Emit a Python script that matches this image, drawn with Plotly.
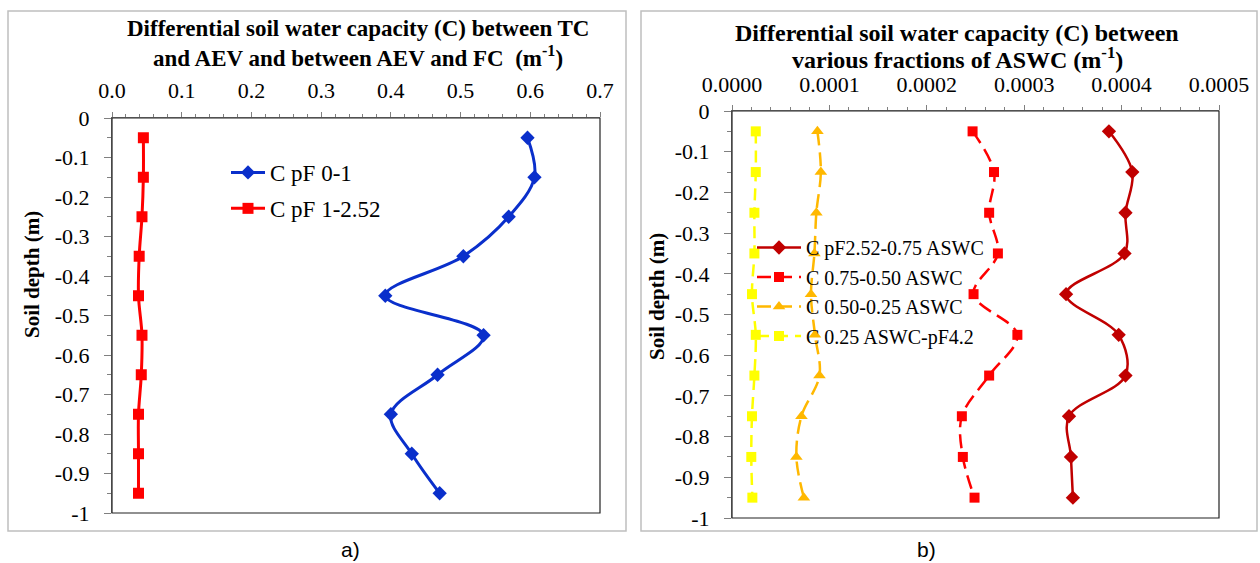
import plotly.graph_objects as go

# ---------------- data ----------------
depth = [-0.05, -0.15, -0.25, -0.35, -0.45, -0.55, -0.65, -0.75, -0.85, -0.95]

c_pf_0_1 = [0.596, 0.606, 0.569, 0.504, 0.392, 0.533, 0.467, 0.400, 0.430, 0.470]
c_pf_1_252 = [0.045, 0.045, 0.043, 0.039, 0.038, 0.043, 0.042, 0.038, 0.038, 0.038]

c_pf252_075 = [0.000387, 0.000411, 0.000404, 0.000403, 0.000343, 0.000397, 0.000404, 0.000346, 0.000348, 0.000350]
c_075_050 = [0.000247, 0.000269, 0.000264, 0.000273, 0.000248, 0.000293, 0.000264, 0.000236, 0.000237, 0.000249]
c_050_025 = [0.0000877, 0.0000912, 0.0000866, 0.0000846, 0.0000811, 0.0000852, 0.0000898, 0.0000713, 0.0000661, 0.0000738]
c_025_pf42 = [0.0000244, 0.0000244, 0.0000230, 0.0000230, 0.0000205, 0.0000244, 0.0000230, 0.0000205, 0.0000198, 0.0000209]

y_tickvals = [0, -0.1, -0.2, -0.3, -0.4, -0.5, -0.6, -0.7, -0.8, -0.9, -1]
y_ticktext = ["0", "-0.1", "-0.2", "-0.3", "-0.4", "-0.5", "-0.6", "-0.7", "-0.8", "-0.9", "-1"]

title_a_lines = ["Differential soil water capacity (C) between TC",
                 "and AEV and between AEV and FC \u00a0(m<sup>-1</sup>)"]
title_b_lines = ["Differential soil water capacity (C) between",
                 "various fractions of ASWC (m<sup>-1</sup>)"]
y_title = "Soil depth (m)"

W, H = 1260, 563
SERIF = "Liberation Serif, Times New Roman, Times, serif"


def px(x):
    return x / W


def py(y):
    return 1 - y / H


fig = go.Figure()

# ---- panel a ----
fig.add_trace(go.Scatter(x=c_pf_0_1, y=depth, name="C pF 0-1", mode="lines+markers",
                         line=dict(color="#0A2FCB", width=3, shape="spline", smoothing=1.0),
                         marker=dict(symbol="diamond", size=11, color="#0A2FCB"),
                         xaxis="x", yaxis="y", legend="legend", legendgroup="a1"))
fig.add_trace(go.Scatter(x=c_pf_1_252, y=depth, name="C pF 1-2.52", mode="lines+markers",
                         line=dict(color="#FF0000", width=3, shape="spline", smoothing=1.0),
                         marker=dict(symbol="square", size=11, color="#FF0000"),
                         xaxis="x", yaxis="y", legend="legend", legendgroup="a2"))

# ---- panel b ----
fig.add_trace(go.Scatter(x=c_pf252_075, y=depth, name="C pF2.52-0.75 ASWC", mode="lines+markers",
                         line=dict(color="#C00000", width=2.5, shape="spline", smoothing=1.0),
                         marker=dict(symbol="diamond", size=11, color="#C00000"),
                         xaxis="x2", yaxis="y2", legend="legend2", legendgroup="b1"))
fig.add_trace(go.Scatter(x=c_075_050, y=depth, name="C 0.75-0.50 ASWC", mode="lines+markers",
                         line=dict(color="#FF0000", width=2.5, shape="spline", smoothing=1.0, dash="14px,7px"),
                         marker=dict(symbol="square", size=10, color="#FF0000"),
                         xaxis="x2", yaxis="y2", legend="legend2", legendgroup="b2"))
fig.add_trace(go.Scatter(x=c_050_025, y=depth, name="C 0.50-0.25 ASWC", mode="lines+markers",
                         line=dict(color="#FFB800", width=2.5, shape="spline", smoothing=1.0, dash="14px,7px"),
                         marker=dict(symbol="triangle-up", size=11, color="#FFB800"),
                         xaxis="x2", yaxis="y2", legend="legend2", legendgroup="b3"))
fig.add_trace(go.Scatter(x=c_025_pf42, y=depth, name="C 0.25 ASWC-pF4.2", mode="lines+markers",
                         line=dict(color="#FFFF00", width=2.5, shape="spline", smoothing=1.0, dash="12px,7px"),
                         marker=dict(symbol="square", size=10, color="#FFFF00"),
                         xaxis="x2", yaxis="y2", legend="legend2", legendgroup="b4"))

tickfont = dict(family=SERIF, size=22, color="black")
axis_common = dict(showgrid=False, zeroline=False, showline=True, linecolor="#808080", linewidth=1,
                   ticks="outside", tickcolor="#808080", tickfont=tickfont, automargin=False)

xa_dom = [px(112), px(600)]
xb_dom = [px(732), px(1219)]
ya_dom = [py(513), py(118)]
yb_dom = [py(518), py(111)]

fig.update_layout(
    width=W, height=H,
    margin=dict(l=0, r=0, t=0, b=0, autoexpand=False),
    paper_bgcolor="white", plot_bgcolor="white",
    xaxis=dict(domain=xa_dom, anchor="y", side="top", range=[0, 0.7], dtick=0.1, tick0=0,
               tickformat=".1f", ticklen=5, ticklabelstandoff=5,
               minor=dict(dtick=0.02, tick0=0, ticks="outside", ticklen=3, tickcolor="#808080"),
               **axis_common),
    yaxis=dict(domain=ya_dom, anchor="x", range=[-1, 0], tickmode="array",
               tickvals=y_tickvals, ticktext=y_ticktext, ticklen=7, ticklabelstandoff=10,
               minor=dict(dtick=0.05, tick0=0, ticks="outside", ticklen=4, tickcolor="#808080"),
               **axis_common),
    xaxis2=dict(domain=xb_dom, anchor="y2", side="top", range=[0, 0.0005], dtick=0.0001, tick0=0,
                tickformat=".4f", ticklen=5, ticklabelstandoff=4,
                minor=dict(dtick=0.00002, tick0=0, ticks="outside", ticklen=3, tickcolor="#808080"),
                **axis_common),
    yaxis2=dict(domain=yb_dom, anchor="x2", range=[-1, 0], tickmode="array",
                tickvals=y_tickvals, ticktext=y_ticktext, ticklen=7, ticklabelstandoff=10,
                minor=dict(dtick=0.05, tick0=0, ticks="outside", ticklen=4, tickcolor="#808080"),
                **axis_common),
    legend=dict(x=px(226), y=py(151), xanchor="left", yanchor="top", bgcolor="rgba(0,0,0,0)",
                font=dict(family=SERIF, size=23, color="black"), tracegroupgap=3,
                itemwidth=34),
    legend2=dict(x=px(752), y=py(228), xanchor="left", yanchor="top", bgcolor="rgba(0,0,0,0)",
                 font=dict(family=SERIF, size=20, color="black"), tracegroupgap=0.5,
                 itemwidth=44),
    showlegend=True,
)

shapes = []
# outer panel frames
for (x0, x1) in [(8, 626), (641, 1257)]:
    shapes.append(dict(type="rect", xref="paper", yref="paper", x0=px(x0), x1=px(x1), y0=py(531), y1=py(11),
                       line=dict(color="#BFBFBF", width=1.5), layer="below"))
# plot-area borders
shapes.append(dict(type="rect", xref="paper", yref="paper", x0=xa_dom[0], x1=xa_dom[1], y0=ya_dom[0], y1=ya_dom[1],
                   line=dict(color="#222222", width=1.2), layer="above"))
shapes.append(dict(type="rect", xref="paper", yref="paper", x0=xb_dom[0], x1=xb_dom[1], y0=yb_dom[0], y1=yb_dom[1],
                   line=dict(color="#222222", width=1.2), layer="above"))
fig.update_layout(shapes=shapes)

annotations = []
for txt, (xc, yc), size in [(title_a_lines[0], (358, 28), 23), (title_a_lines[1], (358, 56), 23),
                            (title_b_lines[0], (957, 33), 24), (title_b_lines[1], (957, 58), 24)]:
    annotations.append(dict(text="<b>" + txt + "</b>", x=px(xc), y=py(yc), xref="paper", yref="paper",
                            showarrow=False, font=dict(family=SERIF, size=size, color="black"),
                            align="center", xanchor="center", yanchor="middle"))
annotations += [
    dict(text="<b>" + y_title + "</b>", x=px(32), y=py(275), xref="paper", yref="paper", textangle=-90,
         showarrow=False, font=dict(family=SERIF, size=21, color="black"), xanchor="center", yanchor="middle"),
    dict(text="<b>" + y_title + "</b>", x=px(657), y=py(297), xref="paper", yref="paper", textangle=-90,
         showarrow=False, font=dict(family=SERIF, size=21, color="black"), xanchor="center", yanchor="middle"),
    dict(text="a)", x=px(350), y=py(549), xref="paper", yref="paper", showarrow=False,
         font=dict(family="Liberation Sans", size=21, color="black"), xanchor="center", yanchor="middle"),
    dict(text="b)", x=px(926), y=py(549), xref="paper", yref="paper", showarrow=False,
         font=dict(family="Liberation Sans", size=21, color="black"), xanchor="center", yanchor="middle"),
]
fig.update_layout(annotations=annotations)

fig.write_html("out.html", config={"displayModeBar": False},
               post_script="document.body.style.margin='0px';document.body.style.overflow='hidden';")
